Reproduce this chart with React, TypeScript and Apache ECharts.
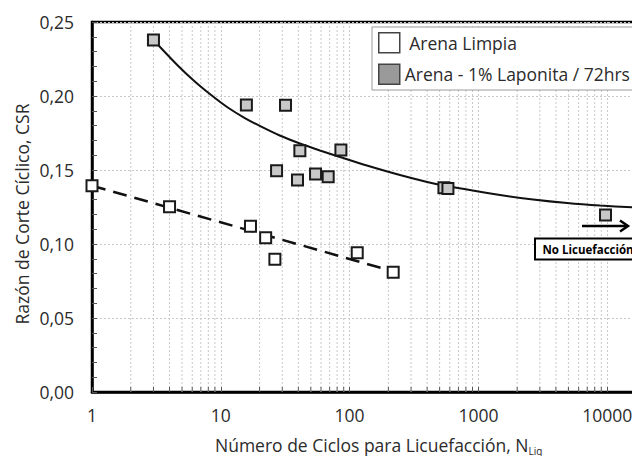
import React, { useEffect, useRef } from "react";
import * as echarts from "echarts";

// Arena Limpia (clean sand): cycles to liquefaction and cyclic stress ratio
const limpiaN = [1, 4, 17, 22.3, 26.3, 114.6, 218];
const limpiaCSR = [0.1394, 0.1252, 0.112, 0.1043, 0.0897, 0.0941, 0.0809];

// Arena - 1% Laponita / 72hrs
const laponitaN = [3, 15.8, 31.8, 27.1, 41.1, 39.4, 54.4, 68.2, 85.6, 540, 580, 9700];
const laponitaCSR = [0.2378, 0.194, 0.1937, 0.1495, 0.163, 0.1432, 0.1473, 0.1455, 0.1635, 0.138, 0.1375, 0.1196];

// Trend curve for the Laponita tests
const trendN = [3, 4.63, 6.28, 8.51, 11.33, 15.37, 20.8, 28.7, 41.1, 58.8, 84.1, 136.2, 246, 450, 815, 1472, 2657, 4880, 8810, 16470];
const trendCSR = [0.2378, 0.2206, 0.2098, 0.2003, 0.1922, 0.1851, 0.1791, 0.1733, 0.1679, 0.1632, 0.1588, 0.153, 0.1466, 0.1409, 0.1368, 0.1331, 0.1301, 0.1277, 0.126, 0.1247];

// Trend line for the clean sand tests
const limpiaTrendN = [1, 218];
const limpiaTrendCSR = [0.1394, 0.0815];

// Log axis structure
const decades = [1, 10, 100, 1000, 10000];
const minorSteps = [2, 3, 4, 5, 6, 7, 8, 9];

const FONT = "'Open Sans', sans-serif";
const TEXT = "#2b2b2b";

const zip = (xs: number[], ys: number[]) => xs.map((x, i) => [x, ys[i]]);

export default function App() {
  const ref = useRef<HTMLDivElement>(null);

  useEffect(() => {
    if (!ref.current) return;
    const chart = echarts.init(ref.current, undefined, { renderer: "svg" });

    const minorValues: number[][] = [];
    decades.forEach((d) => minorSteps.forEach((s) => minorValues.push([d * s, 0])));

    const option: any = {
      animation: false,
      backgroundColor: "#fff",
      grid: {
        left: 92,
        top: 22,
        bottom: 64,
        right: -104,
        outerBoundsMode: "none",
        containLabel: false,
        show: true,
        borderColor: "#000",
        borderWidth: 2.5,
      },
      xAxis: {
        type: "log",
        logBase: 10,
        min: 1,
        max: 100000,
        axisLine: { lineStyle: { color: "#000", width: 2.5 } },
        axisTick: { show: true, inside: true, length: 5, lineStyle: { color: "#555" } },
        axisLabel: {
          margin: 14,
          fontFamily: FONT,
          fontSize: 17.5,
          color: TEXT,
          formatter: (v: number) => String(Math.round(v)),
        },
        splitLine: { show: true, lineStyle: { color: "#c8c8c8", type: [2, 2], width: 1 } },
      },
      yAxis: {
        type: "value",
        min: 0,
        max: 0.25,
        interval: 0.05,
        axisLine: { show: true, lineStyle: { color: "#000", width: 2.5 } },
        axisTick: { show: true, inside: true, length: 5, lineStyle: { color: "#555" } },
        minorTick: { show: true, splitNumber: 5, length: 5, lineStyle: { color: "#555" } },
        axisLabel: {
          margin: 18,
          fontFamily: FONT,
          fontSize: 17.5,
          color: TEXT,
          formatter: (v: number) => v.toFixed(2).replace(".", ","),
        },
        splitLine: { show: true, lineStyle: { color: "#c8c8c8", type: [2, 2], width: 1 } },
      },
      legend: {
        orient: "vertical",
        left: 372,
        top: 27,
        icon: "rect",
        itemWidth: 21,
        itemHeight: 20,
        itemGap: 10,
        padding: [5, 10, 5, 6],
        backgroundColor: "#fff",
        borderColor: "#9a9a9a",
        borderWidth: 1,
        textStyle: { fontFamily: FONT, fontSize: 17.5, color: TEXT },
        formatter: (name: string) => (name === "Arena Limpia" ? " " + name : name),
        data: [
          { name: "Arena Limpia", itemStyle: { color: "#fff", borderColor: "#444", borderWidth: 1.5 } },
          { name: "Arena - 1% Laponita / 72hrs", itemStyle: { color: "#9a9a9a", borderColor: "#444", borderWidth: 1.5 } },
        ],
      },
      series: [
        {
          type: "custom",
          name: "minor",
          z: 1,
          silent: true,
          data: minorValues,
          encode: { x: 0, y: 1 },
          renderItem: (_params: any, api: any) => {
            const v = api.value(0);
            const bot = api.coord([v, 0]);
            const top = api.coord([v, 0.25]);
            return {
              type: "group",
              children: [
                {
                  type: "line",
                  shape: { x1: bot[0], y1: bot[1], x2: top[0], y2: top[1] },
                  style: { stroke: "#c8c8c8", lineWidth: 1, lineDash: [2, 2] },
                },
                {
                  type: "line",
                  shape: { x1: bot[0], y1: bot[1], x2: bot[0], y2: bot[1] - 5 },
                  style: { stroke: "#555", lineWidth: 1 },
                },
              ],
            };
          },
        },
        {
          type: "line",
          name: "trend-laponita",
          z: 2,
          data: zip(trendN, trendCSR),
          smooth: 0.3,
          showSymbol: false,
          lineStyle: { color: "#111", width: 2 },
        },
        {
          type: "line",
          name: "trend-limpia",
          z: 2,
          data: zip(limpiaTrendN, limpiaTrendCSR),
          showSymbol: false,
          lineStyle: { color: "#111", width: 2.5, type: [14, 8] },
        },
        {
          type: "scatter",
          name: "Arena Limpia",
          z: 3,
          data: zip(limpiaN, limpiaCSR),
          symbol: "rect",
          symbolSize: 11,
          itemStyle: { color: "#fff", borderColor: "#1a1a1a", borderWidth: 2, opacity: 1 },
        },
        {
          type: "scatter",
          name: "Arena - 1% Laponita / 72hrs",
          z: 3,
          data: zip(laponitaN, laponitaCSR),
          symbol: "rect",
          symbolSize: 11,
          itemStyle: { color: "#c8c8c8", borderColor: "#1a1a1a", borderWidth: 2, opacity: 1 },
        },
      ],
      graphic: [
        {
          type: "text",
          x: 22,
          y: 214,
          rotation: Math.PI / 2,
          style: {
            text: "Razón de Corte Cíclico, CSR",
            fontFamily: FONT,
            fontSize: 17.5,
            fill: TEXT,
            align: "center",
            verticalAlign: "middle",
          },
        },
        {
          type: "text",
          x: 215,
          y: 445,
          style: {
            text: "{a|Número de Ciclos para Licuefacción, N}{s|Liq}",
            fontFamily: FONT,
            fill: TEXT,
            align: "left",
            verticalAlign: "middle",
            rich: {
              a: { fontFamily: FONT, fontSize: 17.5, lineHeight: 22, fill: TEXT },
              s: { fontFamily: FONT, fontSize: 10, lineHeight: 8, verticalAlign: "bottom", fill: TEXT },
            },
          },
        },
        {
          type: "line",
          shape: { x1: 582, y1: 226, x2: 627, y2: 226 },
          style: { stroke: "#000", lineWidth: 2.5 },
          z: 10,
        },
        {
          type: "polyline",
          shape: { points: [[620, 220.5], [628, 226], [620, 231.5]] },
          style: { stroke: "#000", lineWidth: 2.5, fill: "none" },
          z: 10,
        },
        {
          type: "rect",
          shape: { x: 535, y: 238.5, width: 112, height: 21 },
          style: { fill: "#fff", stroke: "#000", lineWidth: 2 },
          z: 10,
        },
        {
          type: "text",
          x: 542.5,
          y: 249.5,
          z: 11,
          style: {
            text: "No Licuefacción",
            fontFamily: FONT,
            fontWeight: "bold",
            fontSize: 11.5,
            fill: "#000",
            align: "left",
            verticalAlign: "middle",
          },
        },
      ],
    };

    chart.setOption(option);
    return () => chart.dispose();
  }, []);

  return (
    <div
      ref={ref}
      style={{ position: "fixed", left: 0, top: 0, width: 632, height: 456 }}
    />
  );
}
